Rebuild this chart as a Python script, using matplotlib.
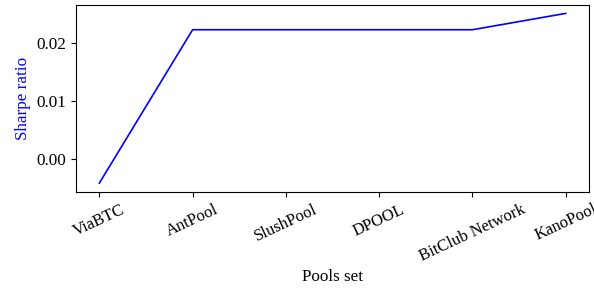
import matplotlib
matplotlib.use("Agg")
import matplotlib.pyplot as plt

plt.rcParams['font.family'] = ['Liberation Serif', 'DejaVu Serif']
plt.rcParams['mathtext.fontset'] = 'stix'

pools = ['ViaBTC', 'AntPool', 'SlushPool', 'DPOOL', 'BitClub Network', 'KanoPool']
sharpe = [-0.0041, 0.0222, 0.0222, 0.0222, 0.0222, 0.0250]


def main():
    fig = plt.figure(figsize=(5.94, 2.89), dpi=100)
    ax = fig.add_subplot(111)
    ax.plot(pools, sharpe, color='b', linewidth=1.2)
    ax.set_ylabel('Sharpe ratio', color='b', fontsize=12.3)
    ax.set_xlabel('Pools set', fontsize=12.3, labelpad=3)
    ax.tick_params(axis='both', labelsize=12.3)
    ax.tick_params(axis='x', labelsize=12)
    plt.xticks(rotation=25)
    fig.subplots_adjust(left=0.128, right=0.9916, top=0.983, bottom=0.337)
    fig.savefig('out.png', dpi=100)


if __name__ == "__main__":
    main()
